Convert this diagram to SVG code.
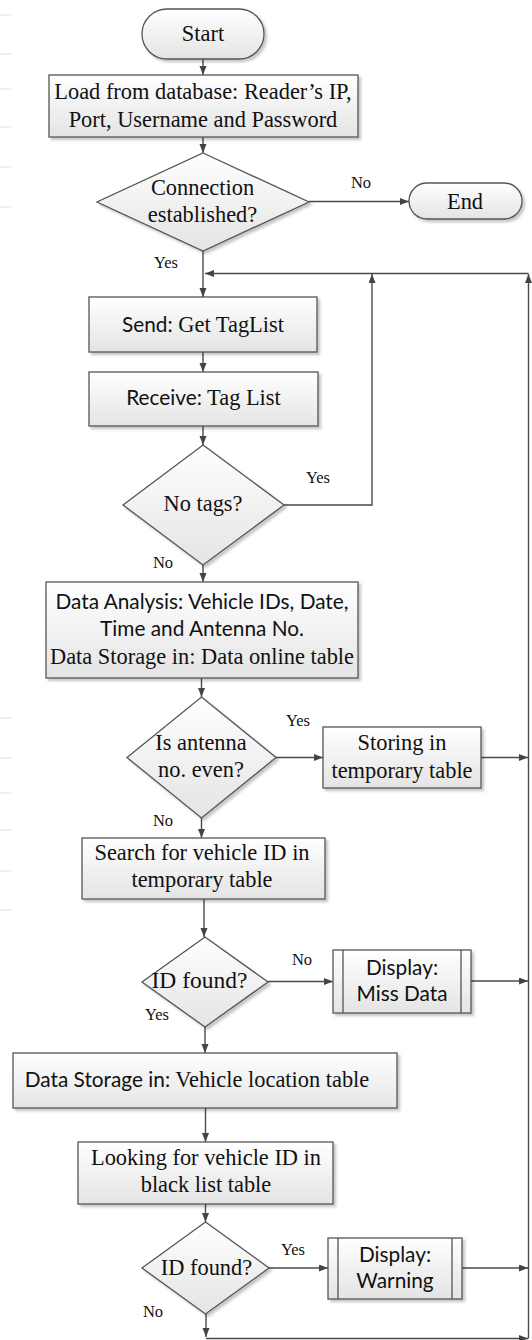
<svg xmlns="http://www.w3.org/2000/svg" width="532" height="1340" viewBox="0 0 532 1340">
  <defs>
    <linearGradient id="shade" x1="0" y1="0" x2="0" y2="1">
      <stop offset="0" stop-color="#ffffff"/>
      <stop offset="1" stop-color="#e4e4e4"/>
    </linearGradient>
    <filter id="drop" x="-10%" y="-10%" width="125%" height="130%">
      <feDropShadow dx="2.5" dy="2.5" stdDeviation="1" flood-color="#000" flood-opacity="0.22"/>
    </filter>
    <marker id="arrow" markerUnits="userSpaceOnUse" markerWidth="10" markerHeight="8" refX="9" refY="3.5" orient="auto">
      <path d="M0,0 L9,3.5 L0,7 Z" fill="#444"/>
    </marker>
  </defs>
  <style>
    .shape { fill: url(#shade); stroke: #555; stroke-width: 1.3; filter: url(#drop); }
    .bar { stroke: #555; stroke-width: 1.3; fill: none; }
    .serif { font-family: "Liberation Serif", "Times New Roman", serif; font-size: 22.4px; fill: #111; }
    .sans { font-family: "Lato", "Liberation Sans", sans-serif; font-size: 20.8px; fill: #111; }
    .lbl { font-family: "Liberation Serif", "Times New Roman", serif; font-size: 16.5px; fill: #111; }
    .wire { stroke: #4a4a4a; stroke-width: 1.4; fill: none; }
    .wire.to { marker-end: url(#arrow); }
    .tick { stroke: #ececec; stroke-width: 1.5; }
  </style>

  <rect width="532" height="1340" fill="#fff"/>

  <!-- faint margin ticks -->
  <g id="margin">
    <path class="tick" d="M0,15H12 M0,54H12 M0,89H12 M0,127H12 M0,167H12 M0,207H12 M0,718H12 M0,758H12 M0,793H12 M0,830H12 M0,871H12 M0,910H12"/>
  </g>

  <!-- connectors -->
  <g id="connectors">
    <path class="wire to" d="M203,59 V75"/>
    <path class="wire to" d="M203,137 V153"/>
    <path class="wire to" d="M309,201.5 H409"/>
    <path class="wire to" d="M203,251 V297"/>
    <path class="wire to" d="M528.5,1338.5 V274"/>
    <path class="wire to" d="M528.5,273.5 H205"/>
    <path class="wire to" d="M284,505 H372 V274"/>
    <path class="wire to" d="M203,352 V372"/>
    <path class="wire to" d="M203,426 V445"/>
    <path class="wire to" d="M203,565 V582"/>
    <path class="wire to" d="M201.5,678 V697"/>
    <path class="wire to" d="M276,757.5 H323"/>
    <path class="wire to" d="M481,757.5 H528"/>
    <path class="wire to" d="M201.5,818 V838"/>
    <path class="wire to" d="M204,899 V937"/>
    <path class="wire to" d="M268,981.5 H333"/>
    <path class="wire to" d="M471,981 H528"/>
    <path class="wire to" d="M205,1027 V1053"/>
    <path class="wire to" d="M205.5,1108 V1142"/>
    <path class="wire to" d="M205.5,1204 V1222"/>
    <path class="wire to" d="M269,1268 H328"/>
    <path class="wire to" d="M462,1268 H528"/>
    <path class="wire to" d="M206,1314 V1337"/>
    <path class="wire to" d="M206,1338.5 H528"/>
  </g>

  <!-- branch labels -->
  <g id="labels" class="lbl" text-anchor="middle">
    <text x="361" y="188">No</text>
    <text x="166" y="268">Yes</text>
    <text x="318" y="483">Yes</text>
    <text x="163" y="568">No</text>
    <text x="298" y="726">Yes</text>
    <text x="163" y="826">No</text>
    <text x="302" y="965">No</text>
    <text x="157" y="1020">Yes</text>
    <text x="293" y="1255">Yes</text>
    <text x="153" y="1317">No</text>
  </g>

  <g id="start">
    <rect class="shape" x="142" y="9" width="122" height="50" rx="25"/>
    <text class="serif" x="203" y="41" text-anchor="middle">Start</text>
  </g>

  <g id="load-settings">
    <rect class="shape" x="49" y="75" width="309" height="62"/>
    <text class="serif" x="203" y="99" text-anchor="middle">Load from database: Reader’s IP,</text>
    <text class="serif" x="203" y="127" text-anchor="middle">Port, Username and Password</text>
  </g>

  <g id="check-connection">
    <polygon class="shape" points="203,153 309,202 203,251 97,202"/>
    <text class="serif" x="202.5" y="195" text-anchor="middle">Connection</text>
    <text class="serif" x="202.5" y="222" text-anchor="middle">established?</text>
  </g>

  <g id="end">
    <rect class="shape" x="409" y="183" width="113" height="36" rx="18"/>
    <text class="serif" x="465" y="209" text-anchor="middle">End</text>
  </g>

  <g id="send-request">
    <rect class="shape" x="89" y="297" width="228" height="55"/>
    <text x="203" y="332" text-anchor="middle"><tspan class="sans">Send:</tspan><tspan class="serif"> Get TagList</tspan></text>
  </g>

  <g id="receive-list">
    <rect class="shape" x="89" y="372" width="229" height="54"/>
    <text x="203.5" y="405" text-anchor="middle"><tspan class="sans">Receive:</tspan><tspan class="serif"> Tag List</tspan></text>
  </g>

  <g id="check-tags">
    <polygon class="shape" points="203,445 284,505 203,565 123,505"/>
    <text class="serif" x="203" y="511" text-anchor="middle">No tags?</text>
  </g>

  <g id="analyse-data">
    <rect class="shape" x="46" y="582" width="312" height="96"/>
    <text class="sans" x="202" y="609" text-anchor="middle">Data Analysis: Vehicle IDs, Date,</text>
    <text class="sans" x="202" y="636" text-anchor="middle">Time and Antenna No.</text>
    <text class="serif" x="202" y="664" text-anchor="middle">Data Storage in: Data online table</text>
  </g>

  <g id="check-antenna">
    <polygon class="shape" points="201.5,697 276,757.5 201.5,818 127,757.5"/>
    <text class="serif" x="201" y="750" text-anchor="middle">Is antenna</text>
    <text class="serif" x="201" y="777" text-anchor="middle">no. even?</text>
  </g>

  <g id="store-temporary">
    <rect class="shape" x="323" y="727" width="158" height="61"/>
    <text class="serif" x="402" y="750" text-anchor="middle">Storing in</text>
    <text class="serif" x="402" y="778" text-anchor="middle">temporary table</text>
  </g>

  <g id="search-temporary">
    <rect class="shape" x="82" y="838" width="243" height="61"/>
    <text class="serif" x="202" y="860" text-anchor="middle">Search for vehicle ID in</text>
    <text class="serif" x="202" y="887" text-anchor="middle">temporary table</text>
  </g>

  <g id="check-found-temporary">
    <polygon class="shape" points="205,937 268,982 205,1027 142,982"/>
    <text class="serif" x="199.5" y="988" text-anchor="middle" style="font-size:23.5px">ID found?</text>
  </g>

  <g id="display-miss">
    <rect class="shape" x="333" y="950" width="138" height="63"/>
    <path class="bar" d="M343,950 V1013 M461,950 V1013"/>
    <text class="sans" x="402" y="975" text-anchor="middle">Display:</text>
    <text class="sans" x="402" y="1001" text-anchor="middle">Miss Data</text>
  </g>

  <g id="store-location">
    <rect class="shape" x="13" y="1053" width="384" height="55"/>
    <text x="197" y="1087" text-anchor="middle"><tspan class="sans">Data Storage in:</tspan><tspan class="serif"> Vehicle location table</tspan></text>
  </g>

  <g id="search-blacklist">
    <rect class="shape" x="78" y="1142" width="255" height="62"/>
    <text class="serif" x="206" y="1165" text-anchor="middle">Looking for vehicle ID in</text>
    <text class="serif" x="206" y="1192" text-anchor="middle">black list table</text>
  </g>

  <g id="check-found-blacklist">
    <polygon class="shape" points="205.5,1222 269,1268 205.5,1314 142,1268"/>
    <text class="serif" x="206.5" y="1275" text-anchor="middle">ID found?</text>
  </g>

  <g id="display-warning">
    <rect class="shape" x="328" y="1238" width="134" height="61"/>
    <path class="bar" d="M338,1238 V1299 M452,1238 V1299"/>
    <text class="sans" x="395" y="1262" text-anchor="middle">Display:</text>
    <text class="sans" x="395" y="1288" text-anchor="middle">Warning</text>
  </g>
</svg>
